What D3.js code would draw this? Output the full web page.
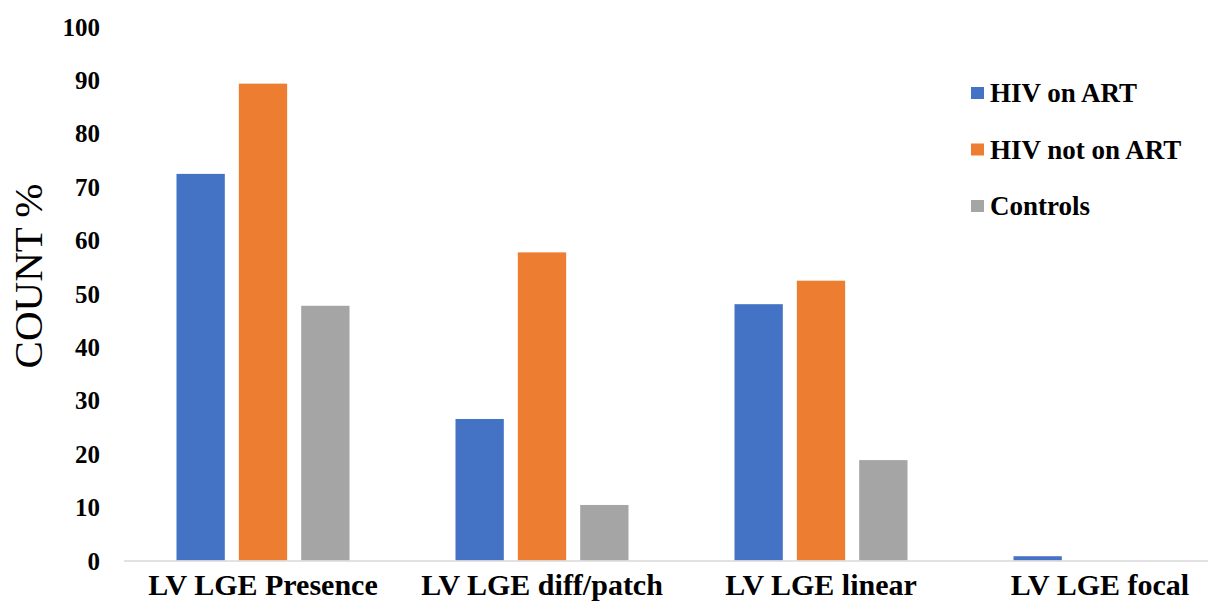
<!DOCTYPE html>
<html>
<head>
<meta charset="utf-8">
<script src="https://cdn.jsdelivr.net/npm/d3@7"></script>
<style>
  html, body { margin: 0; padding: 0; background: #ffffff; }
  svg { display: block; }
</style>
</head>
<body>
<svg id="chart" width="1208" height="610"></svg>
<script>
// Categories along the x axis
const categories = ["LV LGE Presence", "LV LGE diff/patch", "LV LGE linear", "LV LGE focal"];

// Series names and their values (percent)
const seriesNames = ["HIV on ART", "HIV not on ART", "Controls"];
const hivOnArt    = [72.4, 26.5, 48.0, 0.8];
const hivNotOnArt = [89.3, 57.7, 52.4, 0];
const controls    = [47.7, 10.4, 18.8, 0];

// Y axis ticks
const yTicks = [0, 10, 20, 30, 40, 50, 60, 70, 80, 90, 100];

const seriesValues = [hivOnArt, hivNotOnArt, controls];
const colors = ["#4472C4", "#ED7D31", "#A5A5A5"];
const SERIF = "Liberation Serif, Times New Roman, DejaVu Serif, serif";

const svg = d3.select("#chart");

const x0 = d3.scaleBand()
  .domain(categories)
  .range([123.5, 1239.5])
  .padding(0);

const x1 = d3.scaleBand()
  .domain(seriesNames)
  .range([0, x0.bandwidth()])
  .paddingInner(0.225)
  .paddingOuter(0.85);

const y = d3.scaleLinear()
  .domain([0, 100])
  .range([560.5, 26.5]);

const color = d3.scaleOrdinal().domain(seriesNames).range(colors);

// Bars
const rows = categories.map((c, i) => ({
  category: c,
  values: seriesNames.map((s, j) => ({ series: s, value: seriesValues[j][i] }))
}));

const groups = svg.append("g")
  .selectAll("g")
  .data(rows)
  .join("g")
  .attr("transform", d => `translate(${x0(d.category)},0)`);

groups.selectAll("rect")
  .data(d => d.values.filter(v => v.value > 0))
  .join("rect")
  .attr("x", d => x1(d.series))
  .attr("width", x1.bandwidth())
  .attr("y", d => y(d.value))
  .attr("height", d => y(0) - y(d.value))
  .attr("fill", d => color(d.series));

// X axis (baseline + category labels)
const xAxis = svg.append("g")
  .attr("transform", `translate(0,${y(0)})`)
  .call(d3.axisBottom(x0).tickSize(0).tickSizeOuter(0).tickPadding(13))
  .attr("font-family", SERIF)
  .attr("font-size", 30)
  .attr("font-weight", "bold");
xAxis.select(".domain").attr("stroke", "#D9D9D9").attr("stroke-width", 1.5);
xAxis.selectAll("text").attr("fill", "#000");

// Y axis tick labels
const yAxis = svg.append("g")
  .attr("transform", "translate(100,0)")
  .call(d3.axisLeft(y).tickValues(yTicks).tickSize(0).tickPadding(0))
  .attr("font-family", SERIF)
  .attr("font-size", 25)
  .attr("font-weight", "bold");
yAxis.select(".domain").remove();
yAxis.selectAll("text")
  .attr("fill", "#000")
  .attr("dy", "0.34em");

// Y axis title
svg.append("text")
  .attr("transform", "translate(42,276) rotate(-90)")
  .attr("text-anchor", "middle")
  .attr("font-family", SERIF)
  .attr("font-size", 41)
  .attr("fill", "#000")
  .text("COUNT %");

// Legend
const legend = svg.append("g")
  .attr("font-family", SERIF)
  .attr("font-size", 27)
  .attr("font-weight", "bold")
  .selectAll("g")
  .data(seriesNames)
  .join("g")
  .attr("transform", (d, i) => `translate(971,${87 + i * 56.5})`);

legend.append("rect")
  .attr("width", 13)
  .attr("height", 12)
  .attr("fill", d => color(d));

legend.append("text")
  .attr("x", 19)
  .attr("y", 15)
  .attr("fill", "#000")
  .text(d => d);
</script>
</body>
</html>
